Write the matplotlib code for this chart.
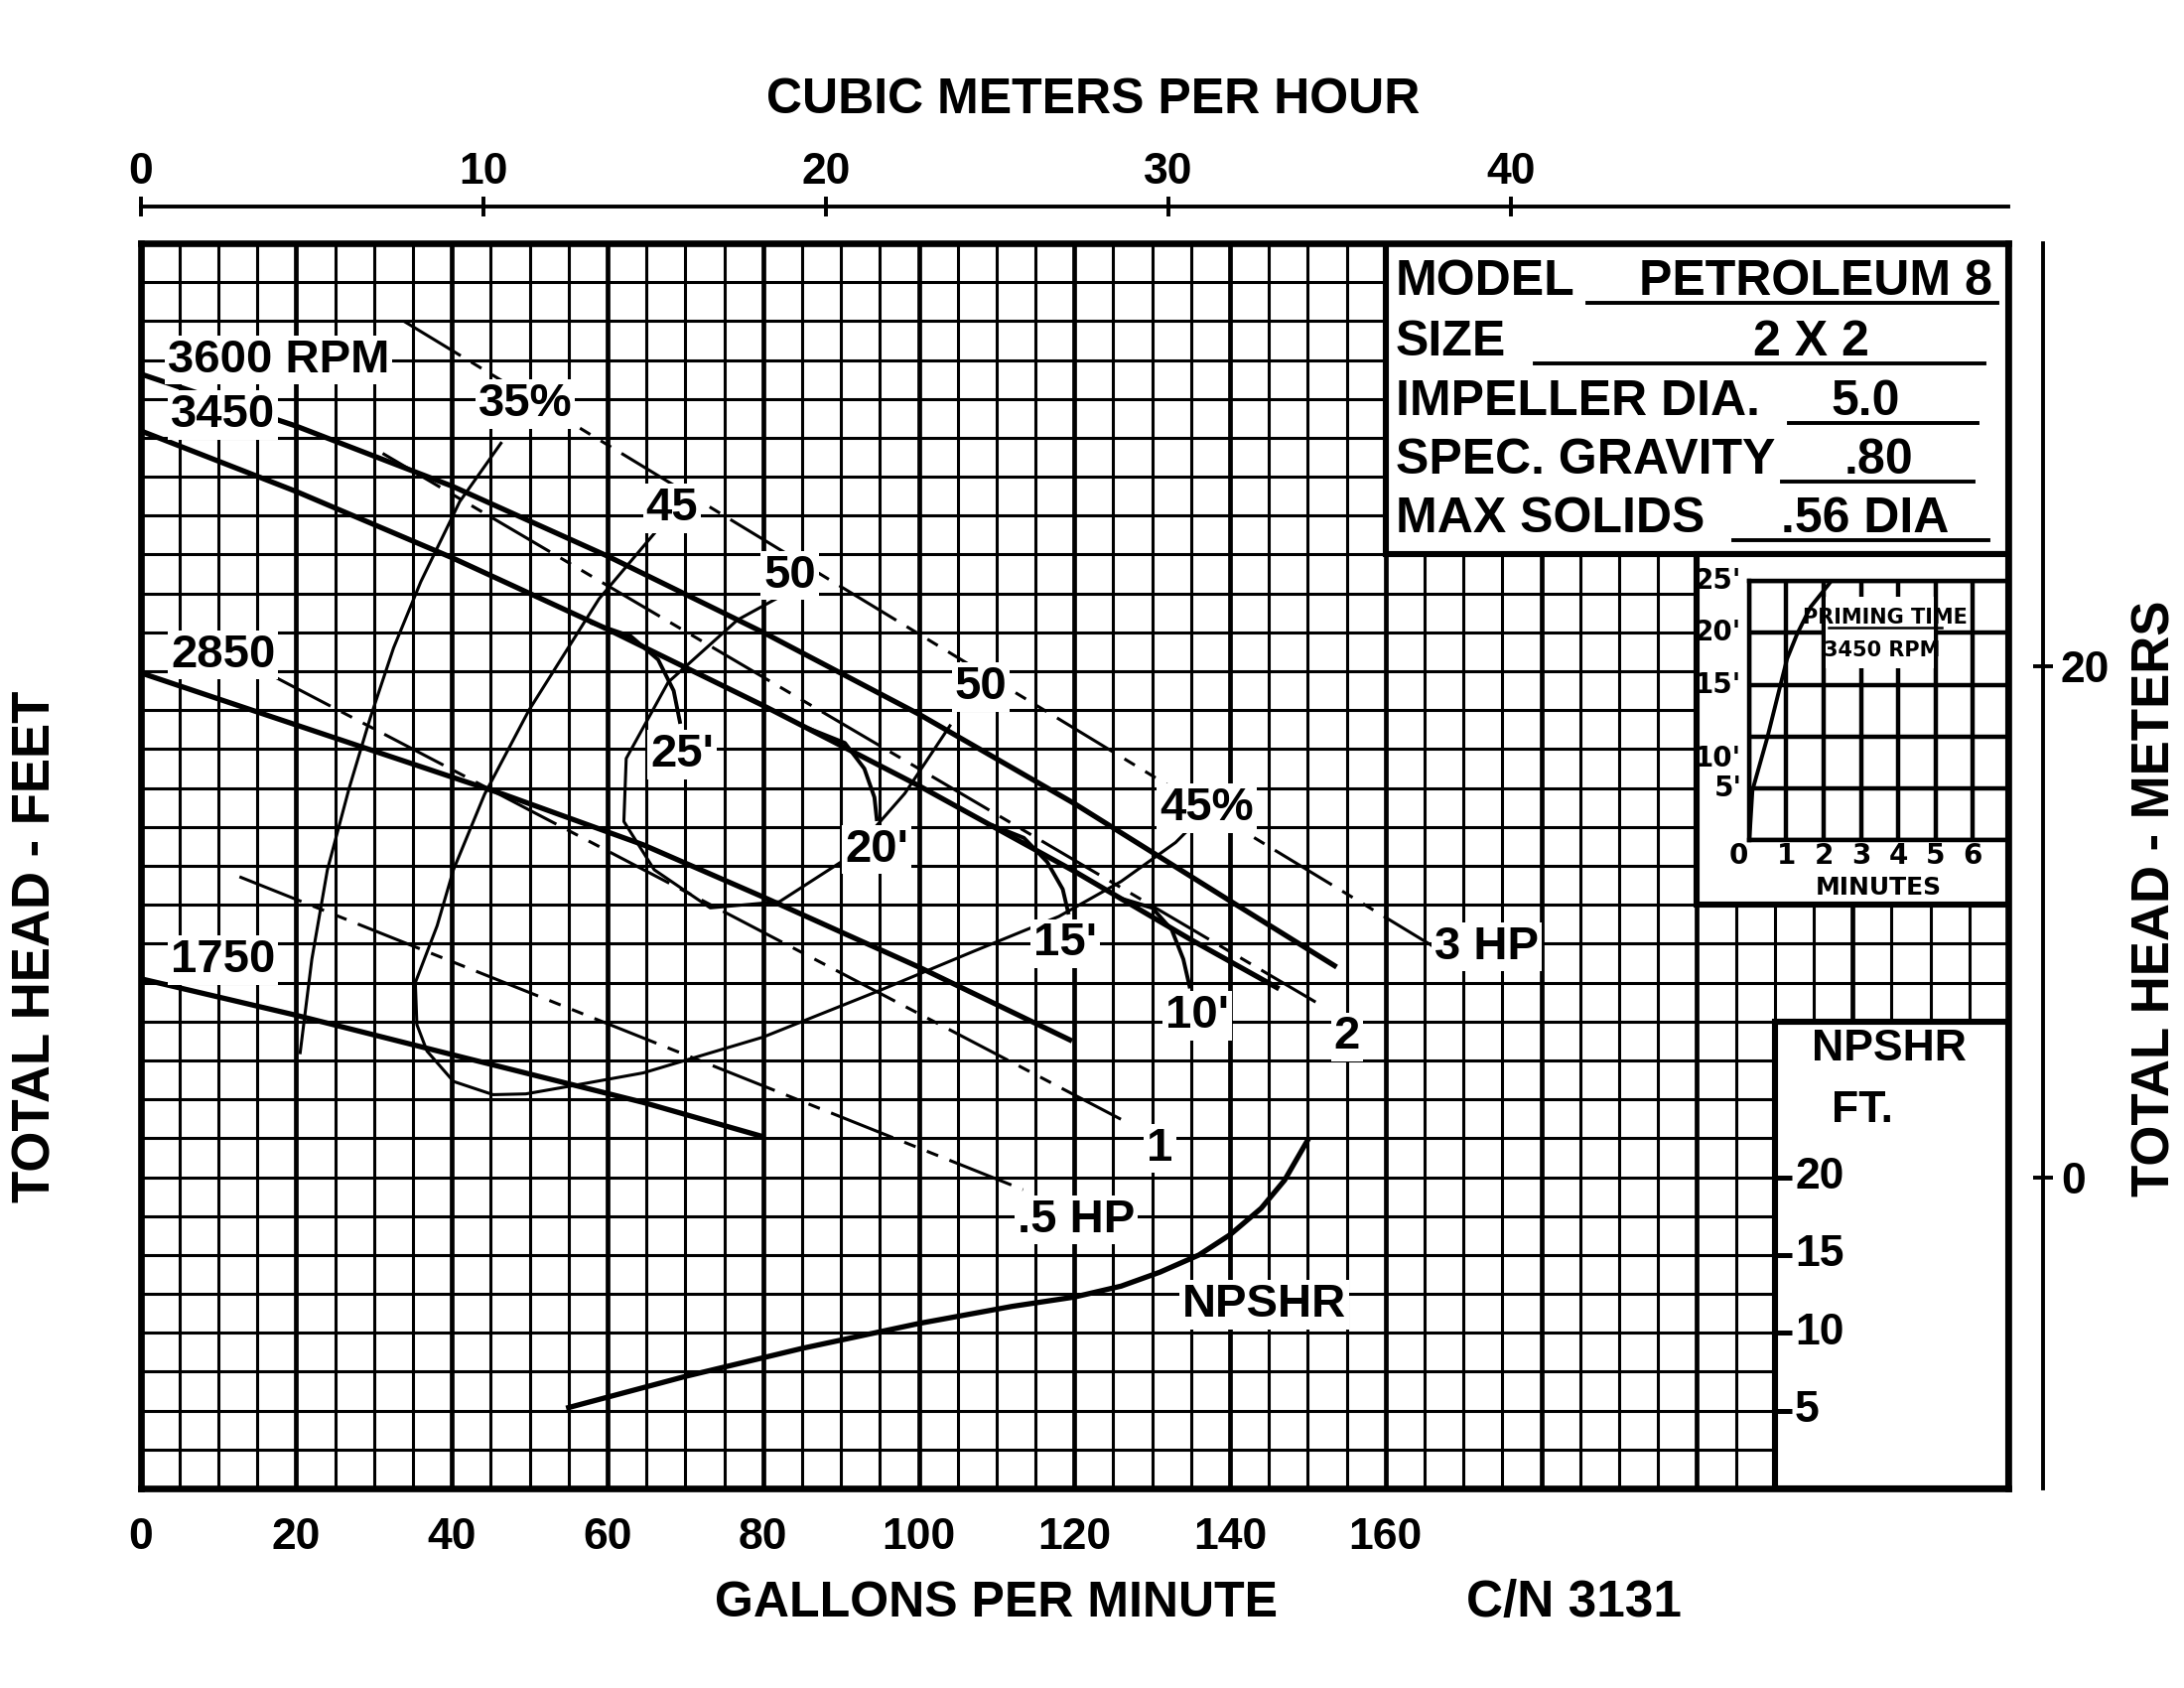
import matplotlib
matplotlib.use('Agg')
import matplotlib.pyplot as plt
from matplotlib.patches import Rectangle
from matplotlib.ticker import FuncFormatter

plt.rcParams['font.family'] = ['Liberation Sans', 'DejaVu Sans']
plt.rcParams['font.weight'] = 'bold'

# ---- data (GPM vs feet) ----
gpm_3600 = [0, 20, 40, 60, 80, 100, 120, 140, 153.7]
ft_3600 = [103.2, 96.5, 88.8, 79.8, 70, 59.5, 48, 35.5, 27]
gpm_3450 = [0, 20, 40, 60, 80, 100, 120, 135, 146.3]
ft_3450 = [95.9, 88.1, 79.6, 70.4, 60.6, 50.3, 39.3, 30.5, 24.2]
gpm_2850 = [0, 20, 46.6, 64.6, 80, 100, 119.7]
ft_2850 = [64.8, 58.1, 49.2, 42.7, 36, 27, 17.5]
gpm_1750 = [0, 20, 41, 64.6, 80]
ft_1750 = [25.5, 20.8, 15.5, 9.6, 5.2]

hp_gpm = [[33.8, 166.2], [31.1, 151], [16.8, 127.2], [12.7, 113.4]]
hp_ft = [[110, 29.6], [93, 22.5], [64.5, 6.8], [38.6, -1.6]]

eff35_gpm = [20.5, 22, 24, 26.8, 29.5, 32.5, 36, 41, 46.3]
eff35_ft = [16, 28, 39.5, 50, 59, 68, 76.5, 86.8, 94.3]
eff45_gpm = [66, 58.9, 49.9, 44.2, 40.2, 38.1, 35.3, 35.5, 36.8, 40.2, 45.3, 49.5,
             55.2, 64.6, 80, 95, 107, 118, 126, 133, 135]
eff45_ft = [82.7, 74.3, 60, 49.2, 39.5, 32.3, 25, 19.6, 16.2, 12.3, 10.6, 10.7,
            11.7, 13.4, 18, 24, 29, 33.5, 38, 43, 45]
eff50_gpm = [82, 76.7, 67.8, 62.4, 62.1, 66, 73.2, 82.1, 91.1, 98.2, 104]
eff50_ft = [74.5, 71.6, 63.6, 53.8, 45.7, 39.5, 34.6, 35.4, 41.2, 49.3, 58]

npsh25_gpm = [58, 63, 66.5, 68.5, 69.3]
npsh25_ft = [71.2, 69.5, 66.5, 62.5, 58.5]
npsh20_gpm = [86, 90.5, 93, 94.3, 94.6]
npsh20_ft = [57.6, 55.8, 52.5, 48.8, 46]
npsh15_gpm = [109.5, 113.5, 116.5, 118.5, 119.2]
npsh15_ft = [45.2, 43.6, 40.5, 37, 34]
npsh10_gpm = [126, 130, 132.5, 134, 134.8]
npsh10_ft = [35.8, 34.6, 31.8, 28, 24.5]

npshr_gpm = [55, 70, 85, 100, 112, 120, 126, 131, 136, 140, 144, 147, 150]
npshr_ft = [5.2, 7.2, 9.0, 10.6, 11.7, 12.3, 13.0, 13.9, 15.0, 16.3, 18.0, 19.8, 22.4]
npshr_ticks = [20, 15, 10, 5]

prime_min = [0, 0.03, 0.09, 0.49, 0.83, 1.02, 1.29, 1.65, 2.14, 2.2]
prime_ft = [0, 1.3, 4.8, 9.9, 14.8, 17.5, 19.9, 22.5, 24.7, 25]

curve_labels = [
    ('3600 RPM', 17.7, 105), ('3450', 10.6, 97.9), ('2850', 10.6, 67.1),
    ('1750', 10.6, 27.9), ('35%', 49.4, 99.3), ('45', 68.3, 85.9),
    ('50', 83.4, 77.3), ('50', 108, 63), ("25'", 69.6, 54.3),
    ("20'", 94.6, 42.1), ("15'", 118.8, 30), ("10'", 135.8, 20.7),
    ('45%', 137, 47.4), ('3 HP', 173, 29.6), ('2', 155, 18),
    ('1', 131, 3.7), ('.5 HP', 120.2, -5.5), ('NPSHR', 144.4, -16.4),
]

info_keys = ['MODEL', 'SIZE', 'IMPELLER DIA.', 'SPEC. GRAVITY', 'MAX SOLIDS']
info_vals = ['PETROLEUM 8', '2 X 2', '5.0', '.80', '.56 DIA']

fig = plt.figure(figsize=(11, 8.5), dpi=200)
ax = fig.add_axes([0.0644, 0.1182, 0.8551, 0.7377])
ax.set_xlim(0, 240)
ax.set_ylim(-40, 120)
ax.set_xticks(range(0, 241, 20))
ax.set_xticks(range(0, 241, 5), minor=True)
ax.set_yticks(range(-40, 121, 20))
ax.set_yticks(range(-40, 121, 5), minor=True)
ax.set_axisbelow(True)
ax.grid(which='major', color='black', lw=1.7)
ax.grid(which='minor', color='black', lw=1.1)
ax.tick_params(which='both', length=0)
ax.tick_params(axis='x', pad=10.5, labelsize=16)
ax.tick_params(axis='y', pad=4, labelsize=16)
ax.xaxis.set_major_formatter(FuncFormatter(lambda v, p: '%d' % v if v <= 160 else ''))
ax.yaxis.set_major_formatter(FuncFormatter(lambda v, p: '%d' % v if 0 <= v <= 100 else ''))
for s in ax.spines.values():
    s.set_linewidth(2.4)

# boxes
ax.add_patch(Rectangle((160, 80), 80, 40, fc='white', ec='black', lw=2.2, zorder=2))
ax.add_patch(Rectangle((200, 35), 40, 45, fc='white', ec='black', lw=2.2, zorder=2))
ax.add_patch(Rectangle((210, -40), 30, 60, fc='white', ec='black', lw=2.2, zorder=2))

# head curves
for g, f in [(gpm_3600, ft_3600), (gpm_3450, ft_3450), (gpm_2850, ft_2850), (gpm_1750, ft_1750)]:
    ax.plot(g, f, color='black', lw=1.9, zorder=3, solid_capstyle='butt')

for g, f in zip(hp_gpm, hp_ft):
    ax.plot(g, f, color='black', lw=1.1, ls=(0, (22, 4, 4, 4, 4, 4)), zorder=3)

for g, f in [(eff35_gpm, eff35_ft), (eff45_gpm, eff45_ft), (eff50_gpm, eff50_ft)]:
    ax.plot(g, f, color='black', lw=1.1, zorder=3)

for g, f in [(npsh25_gpm, npsh25_ft), (npsh20_gpm, npsh20_ft),
             (npsh15_gpm, npsh15_ft), (npsh10_gpm, npsh10_ft)]:
    ax.plot(g, f, color='black', lw=1.4, zorder=3)

for txt, x, y in curve_labels:
    ax.text(x, y, txt, fontsize=17, ha='center', va='center', zorder=5,
            bbox=dict(fc='white', ec='none', pad=1))

# info box
rows_y = [115, 107.3, 99.6, 92.1, 84.5]
val_x = [215.2, 214.7, 221.6, 223.4, 221.6]
line_spans = [(185.9, 238.6), (179.1, 236.9), (211.8, 236), (210.9, 235.6), (204.7, 237.4)]
for k, v, y, vx, sp in zip(info_keys, info_vals, rows_y, val_x, line_spans):
    ax.text(161.3, y, k, fontsize=18, ha='left', va='center', zorder=5)
    ax.text(vx, y, v, fontsize=18, ha='center', va='center', zorder=5)
    ax.plot(sp, [y - 2.7, y - 2.7], color='black', lw=1.4, zorder=5)

# NPSHR scale (NPSHR ft = (head ft + 40) / 2)
ax_n = ax.twinx()
ax_n.set_ylim(0, 80)
ax_n.axis('off')
ax_n.plot(npshr_gpm, npshr_ft, color='black', lw=1.9)
ax_n.hlines(npshr_ticks, 210, 212.2, color='black', lw=1.8)
for n in npshr_ticks:
    ax_n.text(212.6, n, str(n), fontsize=16, ha='left', va='center')
ax_n.text(224.7, 28.2, 'NPSHR', fontsize=16, ha='center', va='center')
ax_n.text(221.3, 24.3, 'FT.', fontsize=16, ha='center', va='center')

# meters axis
ax_r = ax.twinx()
ax_r.set_ylim(-40 * 0.3048, 120 * 0.3048)
for side in ['left', 'top', 'bottom']:
    ax_r.spines[side].set_visible(False)
ax_r.spines['right'].set_position(('outward', 12.6))
ax_r.spines['right'].set_linewidth(1.4)
ax_r.set_yticks([0, 20])
ax_r.tick_params(axis='y', direction='inout', length=7, width=1.4, labelsize=16, pad=3)

# cubic meters per hour axis
ax_t = ax.twiny()
ax_t.set_xlim(0, 240 / 4.403)
for side in ['left', 'right', 'bottom']:
    ax_t.spines[side].set_visible(False)
ax_t.spines['top'].set_position(('outward', 13.3))
ax_t.spines['top'].set_linewidth(1.4)
ax_t.set_xticks([0, 10, 20, 30, 40])
ax_t.tick_params(axis='x', direction='inout', length=7, width=1.4, labelsize=16, pad=1.5)
ax_t.set_yticks([])

# priming time inset
nar = ['Liberation Sans Narrow', 'DejaVu Sans Condensed', 'DejaVu Sans']
ins = ax.inset_axes([206.7, 43.3, 33.3, 33.3], transform=ax.transData)
ins.set_xlim(0, 6.95)
ins.set_ylim(0, 25)
ins.set_xticks(range(0, 7))
ins.set_yticks(range(0, 26, 5))
ins.grid(color='black', lw=1.6)
ins.set_axisbelow(True)
ins.tick_params(length=0, labelbottom=False, labelleft=False)
ins.patch.set_alpha(0)
for s in ins.spines.values():
    s.set_linewidth(1.6)
ins.add_patch(Rectangle((2.05, 16.6), 2.9, 6.9, fc='white', ec='none', zorder=1))
ins.plot(prime_min, prime_ft, color='black', lw=1.4, zorder=3)
ins.text(3.65, 21.5, 'PRIMING TIME', fontsize=7.5, family=nar, ha='center', va='center', zorder=4)
ins.plot([2.14, 5.16], [20.5, 20.5], color='black', lw=0.9, zorder=4)
ins.text(3.56, 18.3, '3450 RPM', fontsize=7.5, family=nar, ha='center', va='center', zorder=4)
for lab, yv in [("25'", 25), ("20'", 20), ("15'", 15), ("10'", 7.9), ("5'", 5.0)]:
    ins.text(-0.2, yv, lab, fontsize=10, family=nar, ha='right', va='center', clip_on=False)
for m in range(0, 7):
    ins.text(m if m else -0.27, -1.5, str(m), fontsize=10, family=nar, ha='center',
             va='center', clip_on=False)
ins.text(3.47, -4.6, 'MINUTES', fontsize=9, family=nar, ha='center', va='center', clip_on=False)

# titles
fig.text(0.5005, 0.9407, 'CUBIC METERS PER HOUR', fontsize=18, ha='center', va='center')
fig.text(0.456, 0.0502, 'GALLONS PER MINUTE', fontsize=18, ha='center', va='center')
fig.text(0.7205, 0.0502, 'C/N 3131', fontsize=18.5, ha='center', va='center')
fig.text(0.0165, 0.439, 'TOTAL HEAD - FEET', fontsize=19, rotation=90, ha='center', va='center')
fig.text(0.987, 0.468, 'TOTAL HEAD - METERS', fontsize=19, rotation=90, ha='center', va='center')

fig.savefig('out.png', dpi=200)
